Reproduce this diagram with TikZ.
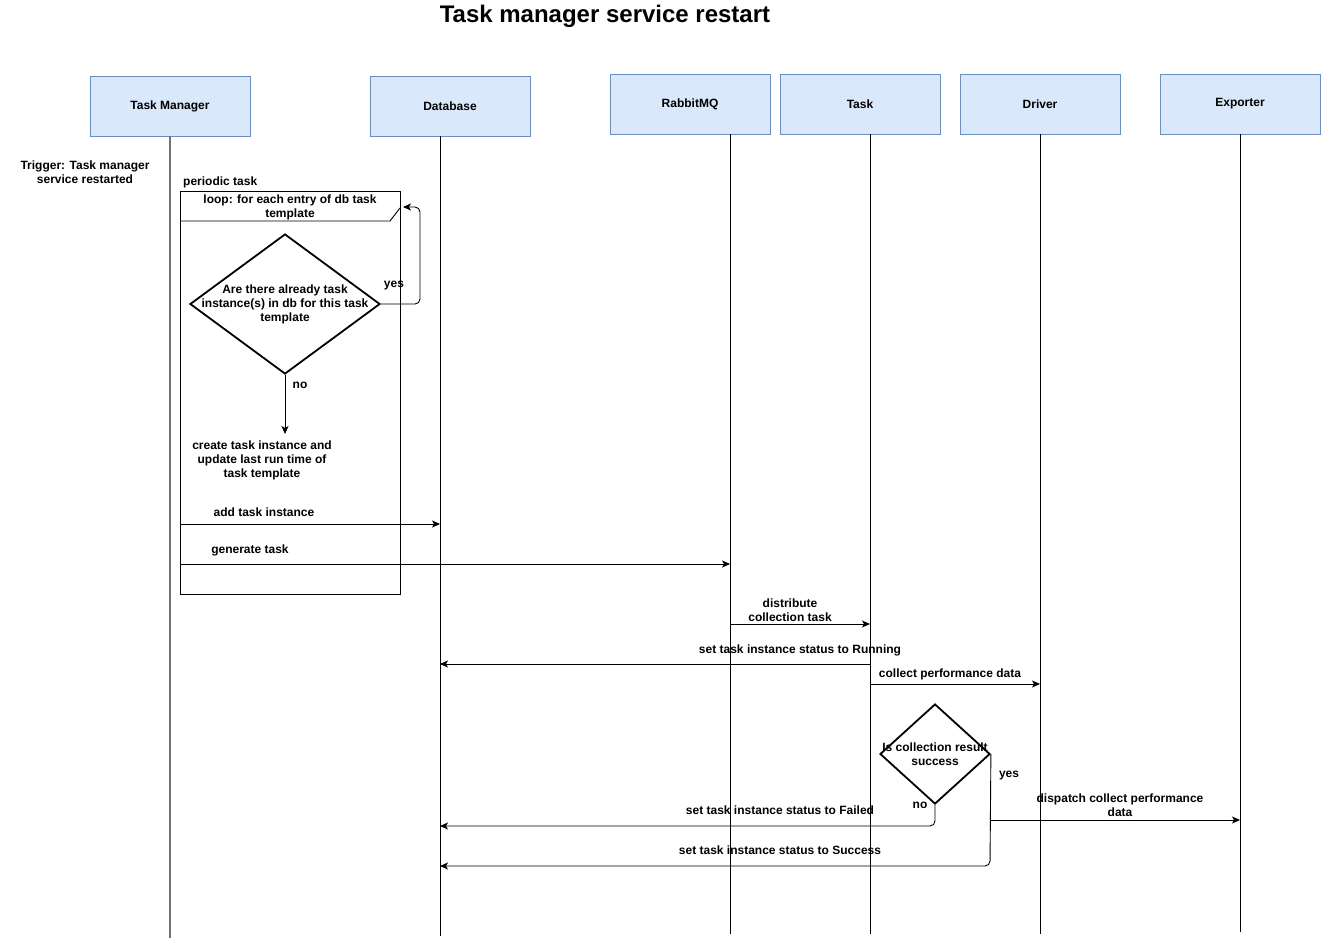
\documentclass[tikz,border=0pt]{standalone}
\usepackage{fontspec}
\setmainfont{Liberation Sans}
\usetikzlibrary{shapes.geometric,arrows.meta}
\definecolor{headfill}{HTML}{DAE8FC}
\definecolor{headline}{HTML}{6C8EBF}
\newcommand{\hdtext}[1]{\raisebox{-3pt}{#1}}
\begin{document}
\begin{tikzpicture}[x=1pt,y=-1pt,
  head/.style={draw=headline,fill=headfill,minimum width=160pt,minimum height=60pt,inner sep=0pt,line width=0.8pt,font=\bfseries\fontsize{12}{14}\selectfont},
  life/.style={draw=black,line width=0.9pt},
  msg/.style={-{Stealth[length=8pt,width=7pt,inset=2pt]},line width=0.9pt,rounded corners=5pt},
  lbl/.style={font=\bfseries\fontsize{12}{14}\selectfont,align=center,inner sep=0pt,yshift=-0.5pt},
  dec/.style={diamond,draw,line width=1.8pt,inner sep=0pt,aspect=1}
]
\useasboundingbox (0,0) rectangle (1321,938);
% title
\node[font=\bfseries\fontsize{24}{28}\selectfont,inner sep=0pt] (title) at (605,16) {Task manager service restart};
% heads
\node[head] (tm) at (170,106) {\hdtext{Task Manager}};
\node[head] (db) at (450,106) {\hdtext{Database}};
\node[head] (mq) at (690,104) {\hdtext{RabbitMQ}};
\node[head] (tk) at (860,104) {\hdtext{Task}};
\node[head] (dr) at (1040,104) {\hdtext{Driver}};
\node[head] (ex) at (1240,104) {\hdtext{Exporter}};
% lifelines
\coordinate (tmT) at (170,136); \coordinate (tmB) at (170,938);
\coordinate (dbT) at (440,136); \coordinate (dbB) at (440,936);
\coordinate (mqT) at (730,134); \coordinate (mqB) at (730,934);
\coordinate (tkT) at (870,134); \coordinate (tkB) at (870,934);
\coordinate (drT) at (1040,134); \coordinate (drB) at (1040,934);
\coordinate (exT) at (1240,134); \coordinate (exB) at (1240,932);
\draw[line width=1.6pt,draw=black!55] (tmT) -- (tmB);
\draw[life] (dbT) -- (dbB);
\draw[life] (mqT) -- (mqB);
\draw[life] (tkT) -- (tkB);
\draw[life] (drT) -- (drB);
\draw[life] (exT) -- (exB);
% trigger
\node[lbl] (trig) at (85,172) {Trigger: Task manager\\service restarted};
\node[lbl,anchor=west] (per) at (183,182) {periodic task};
% loop frame
\node[draw,line width=0.9pt,minimum width=220pt,minimum height=403pt,inner sep=0pt,anchor=north west,fill=white] (loop) at (180,191) {};
\coordinate (hA) at (180,221); \coordinate (hB) at (390,221); \coordinate (hC) at (400,208);
\draw[line width=0.9pt] (hA) -- (hB) -- (hC);
\node[lbl] (loopl) at (290,207) {loop: for each entry of db task\\template};
% decision 1
\node[dec,minimum width=190pt,minimum height=140pt] (d1) at (285,304) {};
\node[lbl] (d1t) at (d1.center) {Are there already task\\instance(s) in db for this task\\template};
\coordinate (y1) at (420,304); \coordinate (y2) at (420,207); \coordinate (y3) at (403,207);
\draw[msg] (d1.east) -- (y1) -- (y2) -- (y3);
\node[lbl] (yes1) at (394,285) {yes};
\coordinate (n1) at (285,434);
\draw[msg] (d1.south) -- (n1);
\node[lbl] (no1) at (300,385) {no};
\node[lbl] (create) at (262,460) {create task instance and\\update last run time of\\task template};
% messages
\coordinate (a1) at (180,524); \coordinate (a2) at (440,524);
\draw[msg] (a1) -- (a2);
\node[lbl] (la) at (264,512) {add task instance};
\coordinate (g1) at (180,564); \coordinate (g2) at (730,564);
\draw[msg] (g1) -- (g2);
\node[lbl] (lg) at (250,550) {generate task};
\coordinate (c1) at (730,624); \coordinate (c2) at (870,624);
\draw[msg] (c1) -- (c2);
\node[lbl] (lc) at (790,610) {distribute\\collection task};
\coordinate (r1) at (870,664); \coordinate (r2) at (440,664);
\draw[msg] (r1) -- (r2);
\node[lbl] (lr) at (800,650) {set task instance status to Running};
\coordinate (p1) at (870,684); \coordinate (p2) at (1040,684);
\draw[msg] (p1) -- (p2);
\node[lbl] (lp) at (950,674) {collect performance data};
% decision 2
\node[dec,minimum width=110pt,minimum height=100pt] (d2) at (935,754) {};
\node[lbl] (d2t) at (d2.center) {Is collection result\\success};
\node[lbl] (yes2) at (1009,775) {yes};
\node[lbl] (no2) at (920,805) {no};
\coordinate (f1) at (935,826); \coordinate (f2) at (440,826);
\draw[msg] (d2.south) -- (f1) -- (f2);
\node[lbl] (lf) at (780,810) {set task instance status to Failed};
\coordinate (s1) at (990,866); \coordinate (s2) at (440,866);
\draw[msg] (d2.east) -- (s1) -- (s2);
\node[lbl] (ls) at (780,850) {set task instance status to Success};
\coordinate (e1) at (990,820); \coordinate (e2) at (1240,820);
\draw[msg] (e1) -- (e2);
\node[lbl] (le) at (1120,805) {dispatch collect performance\\data};
\end{tikzpicture}
\end{document}
